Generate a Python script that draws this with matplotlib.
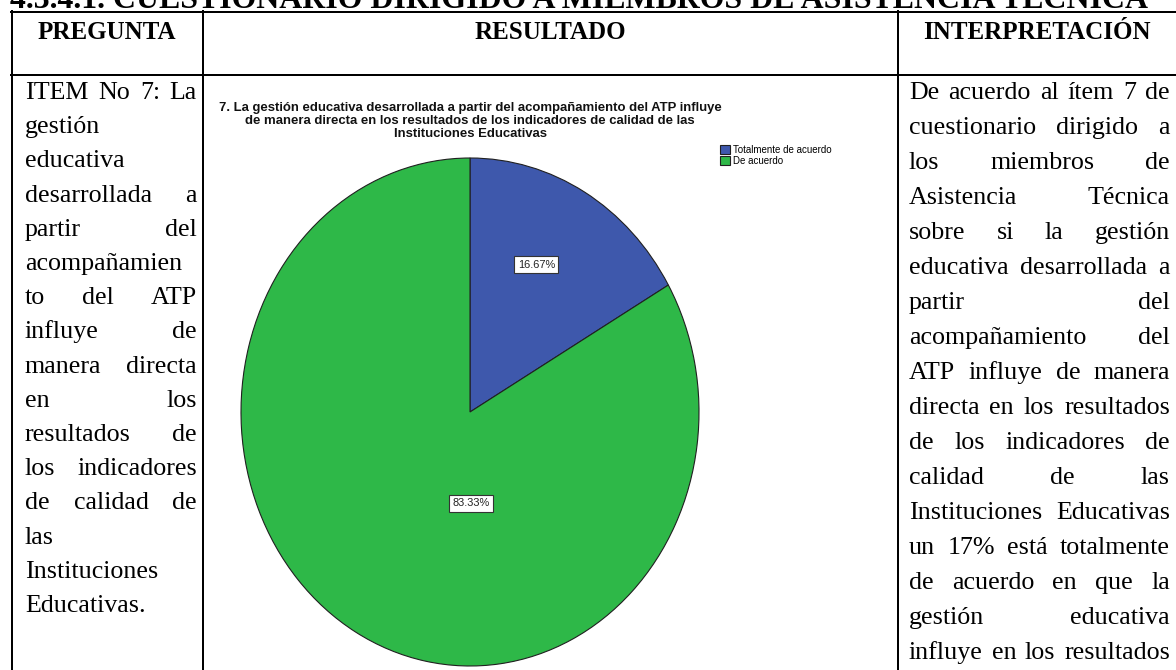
import matplotlib
matplotlib.use("Agg")
import matplotlib.pyplot as plt

W, H = 1176, 670
DPI = 100

categorias = ["Totalmente de acuerdo", "De acuerdo"]
porcentajes = [16.67, 83.33]
colores = ["#3E58AC", "#2EB848"]

titulo_seccion = "4.3.4.1. CUESTIONARIO DIRIGIDO A MIEMBROS DE ASISTENCIA TÉCNICA"
encabezados = ["PREGUNTA", "RESULTADO", "INTERPRETACIÓN"]
titulo_grafico = [
    "7. La gestión educativa desarrollada a partir del acompañamiento del ATP influye",
    "de manera directa en los resultados de los indicadores de calidad de las",
    "Instituciones Educativas",
]
lineas_pregunta = [
    "ITEM No 7: La", "gestión", "educativa", "desarrollada a", "partir del",
    "acompañamien", "to del ATP", "influye de", "manera directa", "en los",
    "resultados de", "los indicadores", "de calidad de", "las",
    "Instituciones", "Educativas.",
]
lineas_interpretacion = [
    "De acuerdo al ítem 7 de", "cuestionario dirigido a", "los miembros de",
    "Asistencia Técnica", "sobre si la gestión", "educativa desarrollada a",
    "partir del", "acompañamiento del", "ATP influye de manera",
    "directa en los resultados", "de los indicadores de", "calidad de las",
    "Instituciones Educativas", "un 17% está totalmente", "de acuerdo en que la",
    "gestión educativa", "influye en los resultados",
]


def pt(v):
    # pixeles -> puntos
    return v * 72 / DPI


fig = plt.figure(figsize=(W / DPI, H / DPI), dpi=DPI)
fondo = fig.add_axes([0, 0, 1, 1])
fondo.set_xlim(0, W)
fondo.set_ylim(H, 0)
fondo.axis("off")
renderer = fig.canvas.get_renderer()


def ancho(texto, **kw):
    t = fondo.text(0, 0, texto, **kw)
    a = t.get_window_extent(renderer).width
    t.remove()
    return a


# bordes de la tabla
lw = pt(2)
fondo.plot([11, W], [12, 12], color="black", lw=lw)
fondo.plot([11, W], [75, 75], color="black", lw=lw)
for xl in [12, 203, 898]:
    fondo.plot([xl, xl], [11, H], color="black", lw=lw)

serif = "Liberation Serif"
sans = "Liberation Sans"

# titulo de la seccion (cortado arriba, como en la pagina original)
est_sec = dict(family=serif, weight="bold", fontsize=10)
f = 10 * (1135 / ancho(titulo_seccion, **est_sec))
fondo.text(10, 8, titulo_seccion, family=serif, weight="bold", fontsize=f, va="baseline")

# encabezados
for texto, xc in zip(encabezados, [107, 550, 1037]):
    fondo.text(xc, 39, texto, family=serif, weight="bold", fontsize=pt(25),
               ha="center", va="baseline")

estilo = dict(family=serif, fontsize=pt(26), va="baseline", color="black")


def justificar(lineas, x0, x1, y0, paso, ultima_libre):
    for i, linea in enumerate(lineas):
        y = y0 + i * paso
        palabras = linea.split()
        if len(palabras) == 1 or (ultima_libre and i == len(lineas) - 1):
            fondo.text(x0, y, linea, **estilo)
            continue
        anchos = [ancho(p, **estilo) for p in palabras]
        hueco = (x1 - x0 - sum(anchos)) / (len(palabras) - 1)
        x = x0
        for p, a in zip(palabras, anchos):
            fondo.text(x, y, p, **estilo)
            x += a + hueco


justificar(lineas_pregunta, 25, 197, 99, 34.2, True)
justificar(lineas_interpretacion, 909, 1170, 99, 35.0, False)

# titulo del grafico
est_tit = dict(family=sans, weight="bold", fontsize=10)
ft = 10 * (505 / ancho(titulo_grafico[0], **est_tit))
for i, linea in enumerate(titulo_grafico):
    fondo.text(470, 108 + i * 13, linea, family=sans, weight="bold", fontsize=ft,
               ha="center", va="center", color="#111111")

# grafico circular
cx, cy, rx, ry = 470, 412, 229, 254
ax = fig.add_axes([(cx - 1.25 * rx) / W, 1 - (cy + 1.25 * ry) / H, 2.5 * rx / W, 2.5 * ry / H])
cunas, textos, autotextos = ax.pie(
    porcentajes, colors=colores, startangle=90, counterclock=False,
    autopct=lambda p: f"{p:.2f}%",
    wedgeprops=dict(edgecolor="#202020", linewidth=0.8),
    textprops=dict(family=sans, fontsize=pt(11), color="#222222"),
)
ax.set_aspect("auto")
ax.set_xlim(-1.25, 1.25)
ax.set_ylim(-1.25, 1.25)
ax.axis("off")

pos_etiquetas = [(0.29, 0.58), (0.004, -0.36)]
for t, p in zip(autotextos, pos_etiquetas):
    t.set_position(p)
    t.set_bbox(dict(boxstyle="square,pad=0.3", fc="white", ec="#333333", lw=0.8))

fig.legend(cunas, categorias, loc="upper left", bbox_to_anchor=(720 / W, 1 - 145 / H),
           frameon=False, prop=dict(family=sans, size=pt(9.8)),
           handlelength=1.05, handleheight=1.05, handletextpad=0.3,
           labelspacing=0.1, borderpad=0, borderaxespad=0)

fig.savefig("out.png", dpi=DPI)
